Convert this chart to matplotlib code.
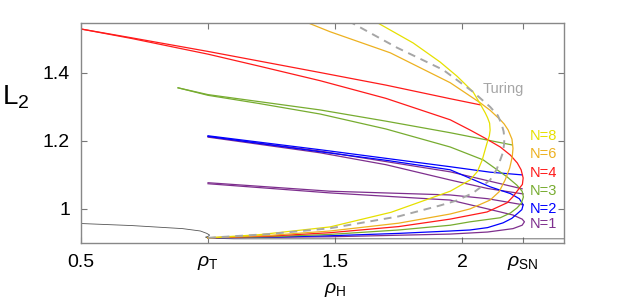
import matplotlib
matplotlib.use('Agg')
import matplotlib.pyplot as plt
from matplotlib.transforms import blended_transform_factory

plt.rcParams.update({
    'font.family'       : 'Liberation Sans',
    'mathtext.fontset'  : 'custom',
    'mathtext.rm'       : 'Liberation Sans',
    'mathtext.it'       : 'Liberation Sans:italic',
    'font.size'         : 14,
})

# values (rho, L2)
# homogeneous branch
hom_rho = [0.5, 0.7, 0.9, 0.97, 0.995, 1.006, 1.0, 0.99, 1.0, 1.1, 2.4]
hom_L   = [0.957, 0.951, 0.942, 0.935, 0.928, 0.923, 0.919, 0.917, 0.914, 0.912, 0.912]

# Turing curve (dashed)
tur_rho = [1.0, 1.24, 1.48, 1.75, 1.913, 1.98, 2.043, 2.110, 2.135, 2.150, 2.160, 2.165, 2.166, 2.163, 2.155,
           2.140, 2.110, 2.043, 1.925, 1.744, 1.559, 1.53]
tur_L   = [0.915, 0.926, 0.943, 0.978, 1.01, 1.025, 1.047, 1.085, 1.115, 1.144, 1.165, 1.19, 1.209, 1.228, 1.25,
           1.275, 1.30, 1.344, 1.409, 1.474, 1.550, 1.56]

# N=8
n8_rho = [1.0, 1.2, 1.48, 1.72, 1.953, 2.031, 2.060, 2.079, 2.098, 2.107, 2.110, 2.108, 2.100, 2.091, 2.070,
          2.043, 1.98, 1.913, 1.807, 1.646, 1.62]
n8_L   = [0.915, 0.924, 0.947, 0.99, 1.052, 1.085, 1.11, 1.144, 1.194, 1.215, 1.232, 1.252, 1.268, 1.282, 1.31,
          1.344, 1.39, 1.432, 1.488, 1.556, 1.565]

# N=6
n6_rho = [1.0, 1.24, 1.48, 1.75, 1.953, 2.031, 2.110, 2.145, 2.169, 2.187, 2.197, 2.200, 2.196, 2.181, 2.165,
          2.150, 2.110, 2.071, 1.953, 1.717, 1.48, 1.35]
n6_L   = [0.915, 0.922, 0.935, 0.958, 0.985, 1.0, 1.026, 1.05, 1.085, 1.12, 1.153, 1.178, 1.205, 1.232, 1.25,
          1.262, 1.29, 1.312, 1.371, 1.459, 1.521, 1.56]

# N=4, two branches
n4a_rho = [0.5, 0.7, 1.0, 1.441, 1.7, 1.953, 2.071]
n4a_L   = [1.529, 1.503, 1.463, 1.401, 1.364, 1.324, 1.306]
n4b_rho = [0.5, 0.7, 1.0, 1.2, 1.441, 1.7, 1.953, 2.031, 2.09, 2.150, 2.19, 2.217, 2.232, 2.240, 2.237, 2.220,
           2.200, 2.177, 2.098, 1.953, 1.75, 1.48, 1.24, 1.0]
n4b_L   = [1.529, 1.501, 1.455, 1.42, 1.377, 1.325, 1.262, 1.232, 1.208, 1.182, 1.158, 1.135, 1.115, 1.091, 1.072,
           1.056, 1.036, 1.018, 0.991, 0.970, 0.948, 0.930, 0.920, 0.915]

# N=3
n3a_rho = [0.882, 1.0, 1.441, 1.7, 1.953, 2.197]
n3a_L   = [1.356, 1.336, 1.291, 1.258, 1.224, 1.188]
n3b_rho = [0.882, 1.0, 1.2, 1.441, 1.7, 1.953, 2.083, 2.177, 2.215, 2.236, 2.241, 2.233, 2.216, 2.190, 2.150,
           2.031, 1.953, 1.75, 1.48, 1.24, 1.0]
n3b_L   = [1.356, 1.334, 1.31, 1.279, 1.235, 1.182, 1.144, 1.094, 1.07, 1.052, 1.035, 1.017, 1.003, 0.988, 0.974,
           0.962, 0.952, 0.938, 0.925, 0.918, 0.915]

# N=2
n2a_rho = [1.0, 1.441, 1.953, 2.110, 2.236]
n2a_L   = [1.215, 1.174, 1.124, 1.108, 1.100]
n2b_rho = [1.0, 1.441, 1.7, 1.953, 2.110, 2.190, 2.225, 2.240, 2.235, 2.220, 2.195, 2.161, 2.10, 2.031, 1.953,
           1.75, 1.48, 1.24, 1.0]
n2b_L   = [1.213, 1.168, 1.143, 1.115, 1.065, 1.045, 1.03, 1.012, 0.998, 0.988, 0.972, 0.959, 0.945, 0.938, 0.935,
           0.928, 0.921, 0.917, 0.915]

# N=1
n1a_rho = [1.0, 1.441, 1.953, 2.236]
n1a_L   = [1.213, 1.170, 1.109, 1.059]
n1b_rho = [1.0, 1.441, 1.7, 1.953, 2.10, 2.240]
n1b_L   = [1.211, 1.165, 1.13, 1.085, 1.06, 1.044]
n1c_rho = [1.0, 1.48, 1.953, 2.10, 2.24]
n1c_L   = [1.077, 1.052, 1.041, 1.03, 1.012]
n1d_rho = [1.0, 1.48, 1.953, 2.10, 2.20, 2.236, 2.245, 2.236, 2.20, 2.10, 1.953, 1.48, 1.0]
n1d_L   = [1.074, 1.047, 1.026, 1.0, 0.982, 0.970, 0.962, 0.952, 0.942, 0.932, 0.926, 0.918, 0.915]

YELLOW = '#e6e000'
ORANGE = '#edb120'
RED    = '#ff1a1a'
GREEN  = '#77ac30'
BLUE   = '#0000ff'
PURPLE = '#7e2f8e'
GRAY   = '#a6a6a6'

labels = ['N=8', 'N=6', 'N=4', 'N=3', 'N=2', 'N=1']
label_L = [1.215, 1.162, 1.106, 1.053, 1.0, 0.956]
label_colors = [YELLOW, ORANGE, RED, GREEN, BLUE, PURPLE]

xticks = [0.5, 1.0, 1.5, 2.0, 2.24]
xticklabels = ['0.5', r'$\rho_{\mathrm{T}}$', '1.5', '2', r'$\rho_{\mathrm{SN}}$']
yticks = [1.0, 1.2, 1.4]
yticklabels = ['1', '1.2', '1.4']

fig = plt.figure(figsize=(6.23, 3.01), dpi=100)
ax = fig.add_axes([0.130, 0.193, 0.775, 0.731])

lw = 0.9
ax.plot(hom_rho, hom_L, color='#555555', lw=0.6)
for r, l, c in [(n1a_rho, n1a_L, PURPLE), (n1b_rho, n1b_L, PURPLE),
                (n1c_rho, n1c_L, PURPLE), (n1d_rho, n1d_L, PURPLE),
                (n2a_rho, n2a_L, BLUE), (n2b_rho, n2b_L, BLUE),
                (n3a_rho, n3a_L, GREEN), (n3b_rho, n3b_L, GREEN),
                (n4a_rho, n4a_L, RED), (n4b_rho, n4b_L, RED),
                (n6_rho, n6_L, ORANGE), (n8_rho, n8_L, YELLOW)]:
    ax.plot(r, l, color=c, lw=lw)
ax.plot(tur_rho, tur_L, color=GRAY, lw=1.4, dashes=(4, 3))

ax.text(2.08, 1.353, 'Turing', color=GRAY, fontsize=10.5, va='center', ha='left')
for t, y, c in zip(labels, label_L, label_colors):
    ax.text(2.265, y, t, color=c, fontsize=10.5, va='center', ha='left')

ax.set_xlim(0.5, 2.4)
ax.set_ylim(0.9, 1.547)
ax.set_xticks(xticks)
ax.set_xticklabels(xticklabels)
ax.set_yticks(yticks)
ax.set_yticklabels(yticklabels)
ax.tick_params(direction='in', length=4, width=0.8, color='#777777',
               top=True, right=True, pad=8)
for s in ax.spines.values():
    s.set_color('#888888')
    s.set_linewidth(1.0)

trans = blended_transform_factory(ax.transData, ax.transAxes)
ax.text(1.5, -0.175, r'$\rho_{\mathrm{H}}$', transform=trans,
        ha='center', va='top', fontsize=14)
ax.set_ylabel(r'L$_2$', fontsize=20, rotation=0)
ax.yaxis.set_label_coords(-0.135, 0.60)

fig.savefig('out.png', dpi=100)
